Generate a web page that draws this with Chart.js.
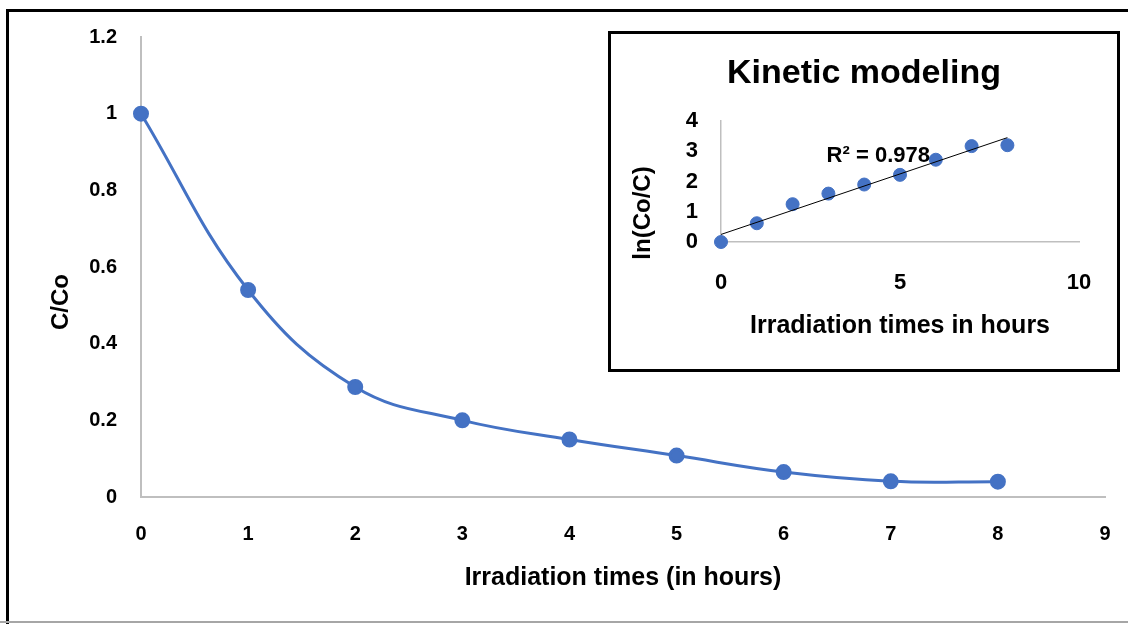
<!DOCTYPE html>
<html>
<head>
<meta charset="utf-8">
<script src="https://cdn.jsdelivr.net/npm/chart.js@4/dist/chart.umd.min.js"></script>
<style>
  html, body { margin: 0; padding: 0; background: #fff; }
  #wrap { position: relative; width: 1128px; height: 624px; overflow: hidden; background: #fff; }
  #main { position: absolute; left: 0; top: 0; }
  #frame { position: absolute; left: 6px; top: 9px; width: 1200px; height: 620px; border-left: 3px solid #000; border-top: 3px solid #000; box-sizing: border-box; }
  #bottomLine { position: absolute; left: 0; top: 621px; width: 1128px; height: 2px; background: #a6a6a6; }
  #inset { position: absolute; left: 608px; top: 31px; width: 512px; height: 341px; border: 3px solid #000; box-sizing: border-box; background: #fff; }
  #insetCanvas { position: absolute; left: 0; top: 0; }
</style>
</head>
<body>
<div id="wrap">
  <canvas id="main" width="1128" height="624"></canvas>
  <div id="frame"></div>
  <div id="bottomLine"></div>
  <div id="inset"><canvas id="insetCanvas" width="506" height="335"></canvas></div>
</div>
<script>
// main curve: C/Co against irradiation time
const hours = [0, 1, 2, 3, 4, 5, 6, 7, 8]
const ratio = [1, 0.54, 0.287, 0.2, 0.15, 0.108, 0.065, 0.041, 0.04]
const mainXTicks = [0, 1, 2, 3, 4, 5, 6, 7, 8, 9]
const mainYTicks = [0, 0.2, 0.4, 0.6, 0.8, 1, 1.2]

// inset: ln(Co/C) with linear trendline
const lnRatio = [0, 0.62, 1.25, 1.6, 1.9, 2.22, 2.72, 3.17, 3.2]
const trendX = [0, 8]
const trendY = [0.25, 3.45]
const insetXTicks = [0, 5, 10]
const insetYTicks = [0, 1, 2, 3, 4]
const r2Text = "R² = 0.978"

const blue = "#4472C4"
const axisGray = "#bfbfbf"
const fontFamily = "'Liberation Sans', Arial, sans-serif"

Chart.defaults.font.family = fontFamily
Chart.defaults.font.weight = "bold"
Chart.defaults.color = "#000"

function fixedTicks(list) {
  return scale => { scale.ticks = list.map(v => ({ value: v })) }
}

// x axis: fixed height, and no extra side padding for the end labels
function xFit(height) {
  return s => {
    s.height = height
    s.paddingLeft = 0
    s.paddingRight = 0
  }
}

// rotated y-axis title, placed like the original (a bit below the axis middle)
function sideTitle(text, size, x, y) {
  return {
    id: "sideTitle",
    afterDraw(chart) {
      const ctx = chart.ctx
      ctx.save()
      ctx.translate(x, y)
      ctx.rotate(-Math.PI / 2)
      ctx.font = "bold " + size + "px " + fontFamily
      ctx.fillStyle = "#000"
      ctx.textAlign = "center"
      ctx.textBaseline = "middle"
      ctx.fillText(text, 0, 0)
      ctx.restore()
    },
  }
}

new Chart(document.getElementById("main"), {
  type: "line",
  data: {
    datasets: [{
      data: hours.map((h, i) => ({ x: h, y: ratio[i] })),
      borderColor: blue,
      backgroundColor: blue,
      borderWidth: 3,
      pointRadius: 6.5,
      pointHoverRadius: 6.5,
      tension: 0.4,
      clip: false,
    }],
  },
  options: {
    responsive: false,
    animation: false,
    layout: { padding: { left: 0, top: 37, right: 23, bottom: 0 } },
    plugins: { legend: { display: false }, tooltip: { enabled: false } },
    scales: {
      x: {
        type: "linear",
        min: 0,
        max: 9,
        afterBuildTicks: fixedTicks(mainXTicks),
        afterFit: xFit(127),
        grid: { color: "transparent", drawTicks: false },
        border: { color: axisGray, width: 2 },
        ticks: { padding: 25, maxRotation: 0, font: { size: 20 } },
        title: {
          display: true,
          text: "Irradiation times (in hours)",
          font: { size: 25 },
          padding: { top: 0, bottom: 31 },
        },
      },
      y: {
        min: 0,
        max: 1.2,
        afterBuildTicks: fixedTicks(mainYTicks),
        afterFit: s => { s.width = 141 },
        grid: { color: "transparent", drawTicks: false },
        border: { color: axisGray, width: 2 },
        ticks: { padding: 24, font: { size: 20 }, callback: v => String(v) },
      },
    },
  },
  plugins: [sideTitle("C/Co", 24, 61, 302)],
})

const r2Label = {
  id: "r2Label",
  afterDatasetsDraw(chart) {
    const ctx = chart.ctx
    const x = chart.scales.x.getPixelForValue(2.95)
    const y = chart.scales.y.getPixelForValue(2.85)
    ctx.save()
    ctx.font = "bold 22px " + fontFamily
    ctx.fillStyle = "#000"
    ctx.textAlign = "left"
    ctx.textBaseline = "middle"
    ctx.fillText(r2Text, x, y)
    ctx.restore()
  },
}

new Chart(document.getElementById("insetCanvas"), {
  type: "scatter",
  data: {
    datasets: [
      {
        type: "line",
        data: trendX.map((x, i) => ({ x: x, y: trendY[i] })),
        borderColor: "#000",
        borderWidth: 1,
        pointRadius: 0,
        fill: false,
      },
      {
        data: hours.map((h, i) => ({ x: h, y: lnRatio[i] })),
        backgroundColor: blue,
        borderColor: blue,
        pointRadius: 6.5,
        pointHoverRadius: 6.5,
        clip: false,
      },
    ],
  },
  options: {
    responsive: false,
    animation: false,
    layout: { padding: { left: 38, top: 0, right: 38, bottom: 0 } },
    plugins: {
      legend: { display: false },
      tooltip: { enabled: false },
      title: {
        display: true,
        text: "Kinetic modeling",
        font: { size: 34, weight: "bold" },
        color: "#000",
        padding: { top: 19, bottom: 27.2 },
      },
    },
    scales: {
      x: {
        type: "linear",
        min: 0,
        max: 10,
        afterBuildTicks: fixedTicks(insetXTicks),
        afterFit: xFit(127),
        grid: { color: "transparent", drawTicks: false },
        border: { color: axisGray, width: 1.5 },
        ticks: { padding: 28, maxRotation: 0, font: { size: 22 } },
        title: {
          display: true,
          text: "Irradiation times in hours",
          font: { size: 25 },
          padding: { top: 0, bottom: 28 },
        },
      },
      y: {
        min: 0,
        max: 4,
        afterBuildTicks: fixedTicks(insetYTicks),
        afterFit: s => { s.width = 72 },
        grid: { color: "transparent", drawTicks: false },
        border: { color: axisGray, width: 1.5 },
        ticks: { padding: 23, font: { size: 22 } },
      },
    },
  },
  plugins: [r2Label, sideTitle("ln(Co/C)", 24, 32, 179)],
})
</script>
</body>
</html>
